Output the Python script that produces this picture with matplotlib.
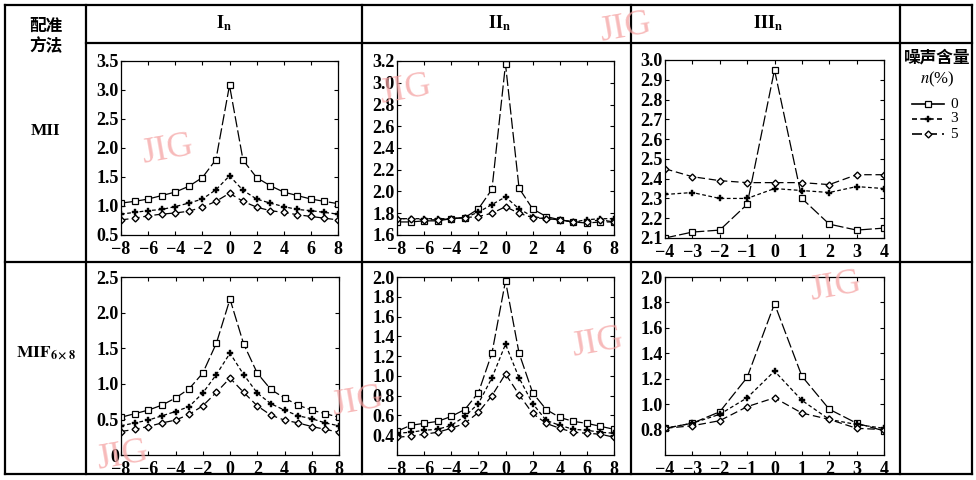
import matplotlib
matplotlib.use("Agg")
import matplotlib.pyplot as plt
from matplotlib.lines import Line2D

W, H = 976, 480

plt.rcParams["font.family"] = ["Liberation Serif", "Noto Sans CJK SC"]
plt.rcParams["mathtext.fontset"] = "stix"
plt.rcParams["axes.unicode_minus"] = True

# x positions (pixel shift)
x_wide = list(range(-8, 9))
x_narrow = list(range(-4, 5))

# MII, I_n
mii_i_0 = [1.05, 1.08, 1.12, 1.18, 1.24, 1.34, 1.49, 1.80, 3.08, 1.79, 1.49, 1.35, 1.24, 1.18, 1.12, 1.08, 1.04]
mii_i_3 = [0.86, 0.89, 0.92, 0.94, 0.99, 1.05, 1.12, 1.28, 1.52, 1.27, 1.12, 1.05, 0.99, 0.94, 0.92, 0.89, 0.86]
mii_i_5 = [0.76, 0.79, 0.83, 0.86, 0.88, 0.91, 0.98, 1.08, 1.22, 1.08, 0.98, 0.92, 0.89, 0.85, 0.82, 0.79, 0.76]

# MII, II_n
mii_ii_0 = [1.72, 1.72, 1.73, 1.73, 1.75, 1.76, 1.84, 2.02, 3.17, 2.03, 1.84, 1.77, 1.74, 1.72, 1.71, 1.72, 1.72]
mii_ii_3 = [1.75, 1.75, 1.75, 1.75, 1.75, 1.76, 1.81, 1.88, 1.95, 1.84, 1.77, 1.75, 1.74, 1.72, 1.74, 1.75, 1.75]
mii_ii_5 = [1.75, 1.75, 1.74, 1.74, 1.75, 1.76, 1.77, 1.80, 1.86, 1.80, 1.76, 1.75, 1.74, 1.72, 1.72, 1.74, 1.72]

# MII, III_n
mii_iii_0 = [2.10, 2.13, 2.14, 2.27, 2.95, 2.30, 2.17, 2.14, 2.15]
mii_iii_3 = [2.32, 2.33, 2.30, 2.30, 2.35, 2.34, 2.33, 2.36, 2.35]
mii_iii_5 = [2.45, 2.41, 2.39, 2.38, 2.38, 2.38, 2.37, 2.42, 2.42]

# MIF6x8, I_n
mif_i_0 = [0.53, 0.58, 0.63, 0.70, 0.80, 0.93, 1.15, 1.57, 2.19, 1.56, 1.15, 0.92, 0.80, 0.70, 0.63, 0.58, 0.53]
mif_i_3 = [0.41, 0.45, 0.49, 0.55, 0.61, 0.68, 0.87, 1.13, 1.43, 1.13, 0.87, 0.72, 0.63, 0.55, 0.51, 0.45, 0.41]
mif_i_5 = [0.33, 0.36, 0.40, 0.45, 0.49, 0.57, 0.69, 0.88, 1.08, 0.88, 0.69, 0.56, 0.49, 0.45, 0.40, 0.36, 0.32]

# MIF6x8, II_n
mif_ii_0 = [0.44, 0.50, 0.52, 0.54, 0.59, 0.66, 0.83, 1.23, 1.96, 1.23, 0.83, 0.66, 0.58, 0.54, 0.52, 0.49, 0.46]
mif_ii_3 = [0.42, 0.43, 0.45, 0.46, 0.50, 0.59, 0.72, 0.98, 1.32, 0.98, 0.72, 0.55, 0.50, 0.46, 0.45, 0.43, 0.42]
mif_ii_5 = [0.38, 0.39, 0.41, 0.43, 0.47, 0.52, 0.63, 0.80, 1.02, 0.81, 0.62, 0.52, 0.47, 0.43, 0.42, 0.41, 0.38]

# MIF6x8, III_n
mif_iii_0 = [0.81, 0.85, 0.94, 1.21, 1.79, 1.22, 0.96, 0.85, 0.79]
mif_iii_3 = [0.81, 0.85, 0.92, 1.05, 1.26, 1.03, 0.88, 0.84, 0.81]
mif_iii_5 = [0.81, 0.83, 0.87, 0.98, 1.05, 0.93, 0.88, 0.81, 0.80]

col_titles = [r"$\mathbf{I}_{\mathbf{n}}$", r"$\mathbf{II}_{\mathbf{n}}$", r"$\mathbf{III}_{\mathbf{n}}$"]
noise_levels = ["0", "3", "5"]


def box(l, t, r, b):
    return [l / W, 1 - b / H, (r - l) / W, (b - t) / H]


def fx(x):
    return x / W


def fy(y):
    return 1 - y / H


styles = [
    dict(marker="s", mfc="white", mec="black", ms=4.5, mew=0.9, dashes=(9, 2.5)),
    dict(marker="P", mfc="black", mec="black", ms=4.5, mew=0.3, dashes=(3, 2)),
    dict(marker="D", mfc="white", mec="black", ms=3.5, mew=1.0, dashes=(6, 3)),
]


def panel(rect, x, series, ylim, yticks, xticks):
    ax = fig.add_axes(box(*rect))
    for s, st in zip(series, styles):
        ax.plot(x, s, color="black", lw=0.9, **st)
    ax.set_xlim(x[0], x[-1])
    ax.set_ylim(*ylim)
    ax.set_yticks(yticks)
    ax.set_xticks(xticks)
    ax.set_yticklabels([f"{t:g}" if t == 0 else f"{t:.1f}" for t in yticks])
    ax.set_xticklabels([f"{t:g}".replace("-", "\u2212") for t in xticks])
    ax.tick_params(direction="in", length=3, width=0.8, top=True, right=True,
                   labelsize=13)
    ax.tick_params(axis="y", pad=1.5)
    ax.tick_params(axis="x", pad=4.5)
    for lab in ax.get_xticklabels() + ax.get_yticklabels():
        lab.set_fontweight("bold")
    for sp in ax.spines.values():
        sp.set_linewidth(0.9)
    return ax


fig = plt.figure(figsize=(W / 100, H / 100), dpi=100)

ticks_w = list(range(-8, 9, 2))
ticks_n = list(range(-4, 5))

panel((121, 61, 338, 235), x_wide, [mii_i_0, mii_i_3, mii_i_5], (0.5, 3.5),
      [0.5, 1.0, 1.5, 2.0, 2.5, 3.0, 3.5], ticks_w)
panel((397, 61, 614, 235), x_wide, [mii_ii_0, mii_ii_3, mii_ii_5], (1.6, 3.2),
      [1.6, 1.8, 2.0, 2.2, 2.4, 2.6, 2.8, 3.0, 3.2], ticks_w)
panel((665, 60, 884, 238), x_narrow, [mii_iii_0, mii_iii_3, mii_iii_5], (2.1, 3.0),
      [2.1, 2.2, 2.3, 2.4, 2.5, 2.6, 2.7, 2.8, 2.9, 3.0], ticks_n)
panel((121, 277, 339, 455), x_wide, [mif_i_0, mif_i_3, mif_i_5], (0, 2.5),
      [0, 0.5, 1.0, 1.5, 2.0, 2.5], ticks_w)
panel((397, 277, 614, 455), x_wide, [mif_ii_0, mif_ii_3, mif_ii_5], (0.2, 2.0),
      [0.4, 0.6, 0.8, 1.0, 1.2, 1.4, 1.6, 1.8, 2.0], ticks_w)
panel((665, 277, 884, 455), x_narrow, [mif_iii_0, mif_iii_3, mif_iii_5], (0.6, 2.0),
      [0.8, 1.0, 1.2, 1.4, 1.6, 1.8, 2.0], ticks_n)


# table grid
def line(x0, y0, x1, y1, lw=1.6):
    fig.add_artist(Line2D([fx(x0), fx(x1)], [fy(y0), fy(y1)], transform=fig.transFigure,
                          color="black", lw=lw))


line(5, 5, 972, 5)
line(5, 474, 972, 474)
for xv in [5, 86, 362, 631, 900, 972]:
    line(xv, 5, xv, 474)
line(86, 43, 972, 43)
line(5, 262, 972, 262)

# headers
for xc, t in zip([224, 500, 768], col_titles):
    fig.text(fx(xc), fy(23), t, ha="center", va="center", fontsize=13)
fig.text(fx(46), fy(36), "配准\n方法", ha="center", va="center", fontsize=12,
         fontweight="bold", family=["Noto Sans CJK SC"], linespacing=1.1)
fig.text(fx(46), fy(131), "MII", ha="center", va="center", fontsize=12.5, fontweight="bold")
fig.text(fx(46), fy(353), r"$\mathbf{MIF}_{\mathbf{6\times8}}$", ha="center", va="center",
         fontsize=12.5)

# legend column
fig.text(fx(937), fy(57), "噪声含量", ha="center", va="center", fontsize=12,
         fontweight="bold", family=["Noto Sans CJK SC"])
fig.text(fx(937), fy(79), r"$n$(%)", ha="center", va="center", fontsize=12)
for i, (lab, st) in enumerate(zip(noise_levels, styles)):
    yy = fy(104 + 15 * i)
    fig.add_artist(Line2D([fx(912), fx(928), fx(944)], [yy, yy, yy],
                          transform=fig.transFigure, color="black", lw=1.2, markevery=[1],
                          **{k: v for k, v in st.items() if k != "dashes"},
                          linestyle=(0, st["dashes"]) if i else "-"))
    fig.text(fx(950), yy, lab, ha="left", va="center", fontsize=11)

# watermark
for (wx, wy) in [(167, 150), (405, 90), (625, 28), (122, 456), (357, 402), (597, 343), (835, 287)]:
    fig.text(fx(wx), fy(wy), "JIG", ha="center", va="center", fontsize=26, color="#f5a3a3",
             alpha=0.75, rotation=10, zorder=5)

fig.savefig("out.png", dpi=100)
